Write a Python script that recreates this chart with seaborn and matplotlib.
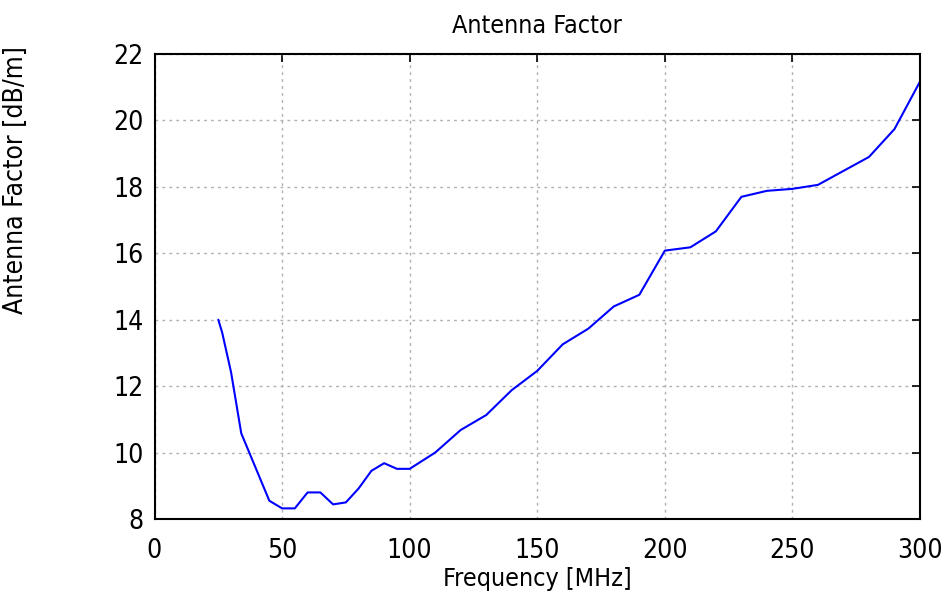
import pandas as pd
import seaborn as sns
import matplotlib.pyplot as plt
from matplotlib import font_manager

freq_mhz = [25, 26.5, 30, 34, 45, 50, 55, 60, 65, 70, 75, 80, 85, 90, 95, 100,
            110, 120, 130, 140, 150, 160, 170, 180, 190, 200, 210, 220, 230,
            240, 250, 260, 270, 280, 290, 300]
factor_db = [14.0, 13.62, 12.42, 10.58, 8.55, 8.32, 8.32, 8.80, 8.80, 8.44, 8.50,
             8.92, 9.45, 9.68, 9.51, 9.51, 10.0, 10.68, 11.13, 11.88, 12.46,
             13.26, 13.73, 14.40, 14.75, 16.08, 16.18, 16.66, 17.70, 17.88,
             17.94, 18.06, 18.48, 18.90, 19.74, 21.17]
x_ticks = [0, 50, 100, 150, 200, 250, 300]
y_ticks = [8, 10, 12, 14, 16, 18, 20, 22]

df = pd.DataFrame({'freq': freq_mhz, 'af': factor_db})

sns.set_style("white")
# fuente estrecha si existe
installed = {f.name for f in font_manager.fontManager.ttflist}
fams = [f for f in ['Liberation Sans Narrow', 'DejaVu Sans Condensed'] if f in installed]
plt.rcParams['font.family'] = fams + ['DejaVu Sans']
if not fams:
    plt.rcParams['font.stretch'] = 'condensed'

fig = plt.figure(figsize=(9.44, 5.96), dpi=100)
ax = fig.add_axes([154.5 / 944, 1 - 519 / 596, (920 - 154.5) / 944, (519 - 54) / 596])

sns.lineplot(data=df, x='freq', y='af', color='#0000ff', linewidth=1.5, ax=ax)

ax.set_xlim(0, 300)
ax.set_ylim(8, 22)
ax.set_xticks(x_ticks)
ax.set_yticks(y_ticks)
ax.grid(True, color='#b0b0b0', linestyle=(0, (2, 3)), linewidth=1)
ax.tick_params(direction='in', length=6, width=1.2, top=True, right=True,
               labelsize=19, colors='black', pad=8)
ax.tick_params(axis='x', pad=14)
for s in ax.spines.values():
    s.set_color('black')
    s.set_linewidth(1.5)

ax.set_xlabel('Frequency [MHz]', fontsize=18, color='black', labelpad=2)
ax.set_ylabel('')
ax.set_title('Antenna Factor', fontsize=18, color='black', pad=15)
fig.text(16 / 944, 1 - 180 / 596, 'Antenna Factor [dB/m]', rotation=90,
         ha='center', va='center', fontsize=19, color='black')

fig.savefig('out.png', dpi=100)
